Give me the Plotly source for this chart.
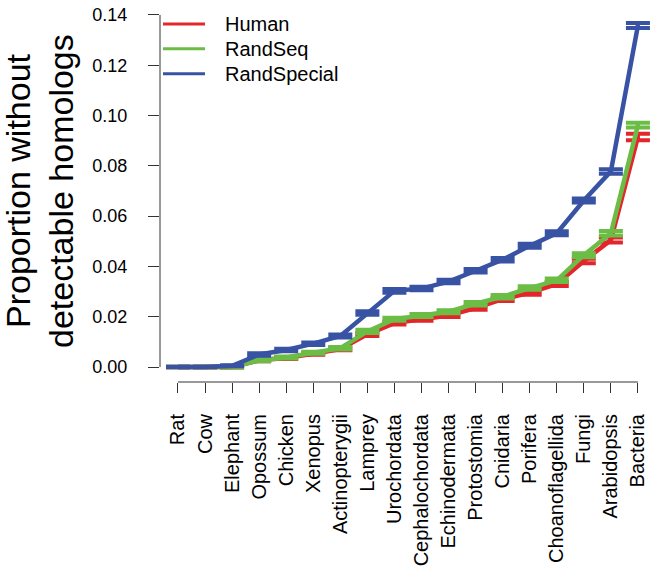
import plotly.graph_objects as go

categories = ["Rat", "Cow", "Elephant", "Opossum", "Chicken", "Xenopus", "Actinopterygii",
              "Lamprey", "Urochordata", "Cephalochordata", "Echinodermata", "Protostomia",
              "Cnidaria", "Porifera", "Choanoflagellida", "Fungi", "Arabidopsis", "Bacteria"]

human = [0.0, 0.0, 0.0, 0.0027, 0.0036, 0.0053, 0.0072, 0.0130, 0.0175, 0.0190, 0.0205,
         0.0235, 0.0270, 0.0295, 0.0330, 0.0422, 0.0505, 0.0915]
human_err = [0.0001, 0.0001, 0.0002, 0.0004, 0.0004, 0.0004, 0.0005, 0.0006, 0.0006, 0.0006,
             0.0006, 0.0007, 0.0007, 0.0007, 0.0008, 0.0009, 0.0010, 0.0013]

randseq = [0.0, 0.0, 0.0, 0.0027, 0.0038, 0.0057, 0.0075, 0.0142, 0.0190, 0.0205, 0.0220,
           0.0252, 0.0280, 0.0314, 0.0345, 0.0445, 0.0532, 0.0962]
randseq_err = [0.0001, 0.0001, 0.0002, 0.0004, 0.0004, 0.0004, 0.0005, 0.0006, 0.0006, 0.0006,
               0.0006, 0.0007, 0.0007, 0.0007, 0.0007, 0.0008, 0.0009, 0.0009]

randspecial = [0.0, 0.0, 0.0005, 0.0050, 0.0068, 0.0093, 0.0124, 0.0215, 0.0303, 0.0312,
               0.0340, 0.0383, 0.0427, 0.0482, 0.0532, 0.0662, 0.0778, 0.1358]
randspecial_err = [0.0001, 0.0001, 0.0002, 0.0005, 0.0005, 0.0005, 0.0006, 0.0007, 0.0007,
                   0.0007, 0.0007, 0.0007, 0.0007, 0.0008, 0.0008, 0.0008, 0.0009, 0.0010]

y_ticks = [0.00, 0.02, 0.04, 0.06, 0.08, 0.10, 0.12, 0.14]
y_ticktext = ["0.00", "0.02", "0.04", "0.06", "0.08", "0.10", "0.12", "0.14"]

y_title_lines = ["Proportion without", "detectable homologs"]

series = [
    ("Human", human, human_err, "#e3262b"),
    ("RandSeq", randseq, randseq_err, "#6bbd45"),
    ("RandSpecial", randspecial, randspecial_err, "#3953a4"),
]

FONT = "Liberation Sans, Arial, Helvetica, sans-serif"

fig = go.Figure()
for name, vals, errs, col in series:
    fig.add_trace(go.Scatter(
        x=categories, y=vals, name=name, mode="lines", showlegend=False,
        line=dict(color=col, width=4.5),
        error_y=dict(type="data", array=errs, visible=True, color=col,
                     thickness=4, width=12),
    ))

# plot area: left 160, right 652, top 5, bottom 383 (px)
PLOT_TOP, PLOT_H = 5, 378

shapes = [
    dict(type="line", xref="paper", yref="y", x0=0, x1=0, y0=y_ticks[0], y1=y_ticks[-1],
         line=dict(color="#333", width=1)),
    dict(type="line", xref="x", yref="paper", x0=categories[0], x1=categories[-1], y0=0, y1=0,
         line=dict(color="#333", width=1)),
]
annotations = []
# manual legend (top-left, inside plot)
for i, (name, vals, errs, col) in enumerate(series):
    ypix = 23 + 25 * i
    yp = 1 - (ypix - PLOT_TOP) / PLOT_H
    shapes.append(dict(type="line", xref="paper", yref="paper", x0=3 / 492, x1=45 / 492,
                       y0=yp, y1=yp, line=dict(color=col, width=3)))
    annotations.append(dict(text=name, xref="paper", yref="paper", x=63 / 492, y=yp,
                            xanchor="left", yanchor="middle", showarrow=False,
                            font=dict(size=20, family=FONT, color="black")))

# y-axis title, two lines rotated
for j, (line_txt, xcen) in enumerate(zip(y_title_lines, [18, 61])):
    annotations.append(dict(text=line_txt, textangle=-90, xref="paper", yref="y",
                            x=0, y=0.07, xanchor="center", yanchor="middle",
                            xshift=xcen - 160, showarrow=False,
                            font=dict(size=34, family=FONT, color="black")))

n = len(categories)
fig.update_layout(
    width=660, height=571,
    margin=dict(l=160, r=8, t=PLOT_TOP, b=571 - PLOT_TOP - PLOT_H),
    paper_bgcolor="white", plot_bgcolor="white",
    font=dict(family=FONT, color="black"),
    showlegend=False,
    xaxis=dict(type="category", range=[-0.665, n - 1 + 0.52], showgrid=False,
               zeroline=False, showline=False, ticks="outside", ticklen=10,
               tickcolor="#333", tickwidth=1, tickangle=-90,
               tickfont=dict(size=20, family=FONT), ticklabelstandoff=13),
    yaxis=dict(range=[-0.00593, 0.14356], showgrid=False, zeroline=False, showline=False,
               tickvals=y_ticks, ticktext=y_ticktext, ticks="outside", ticklen=11,
               tickcolor="#333", tickwidth=1, tickfont=dict(size=18, family=FONT),
               ticklabelstandoff=17),
    shapes=shapes,
    annotations=annotations,
)

fig.write_html("out.html", config={"displayModeBar": False},
               post_script="document.body.style.margin='0px';document.body.style.overflow='hidden';")
